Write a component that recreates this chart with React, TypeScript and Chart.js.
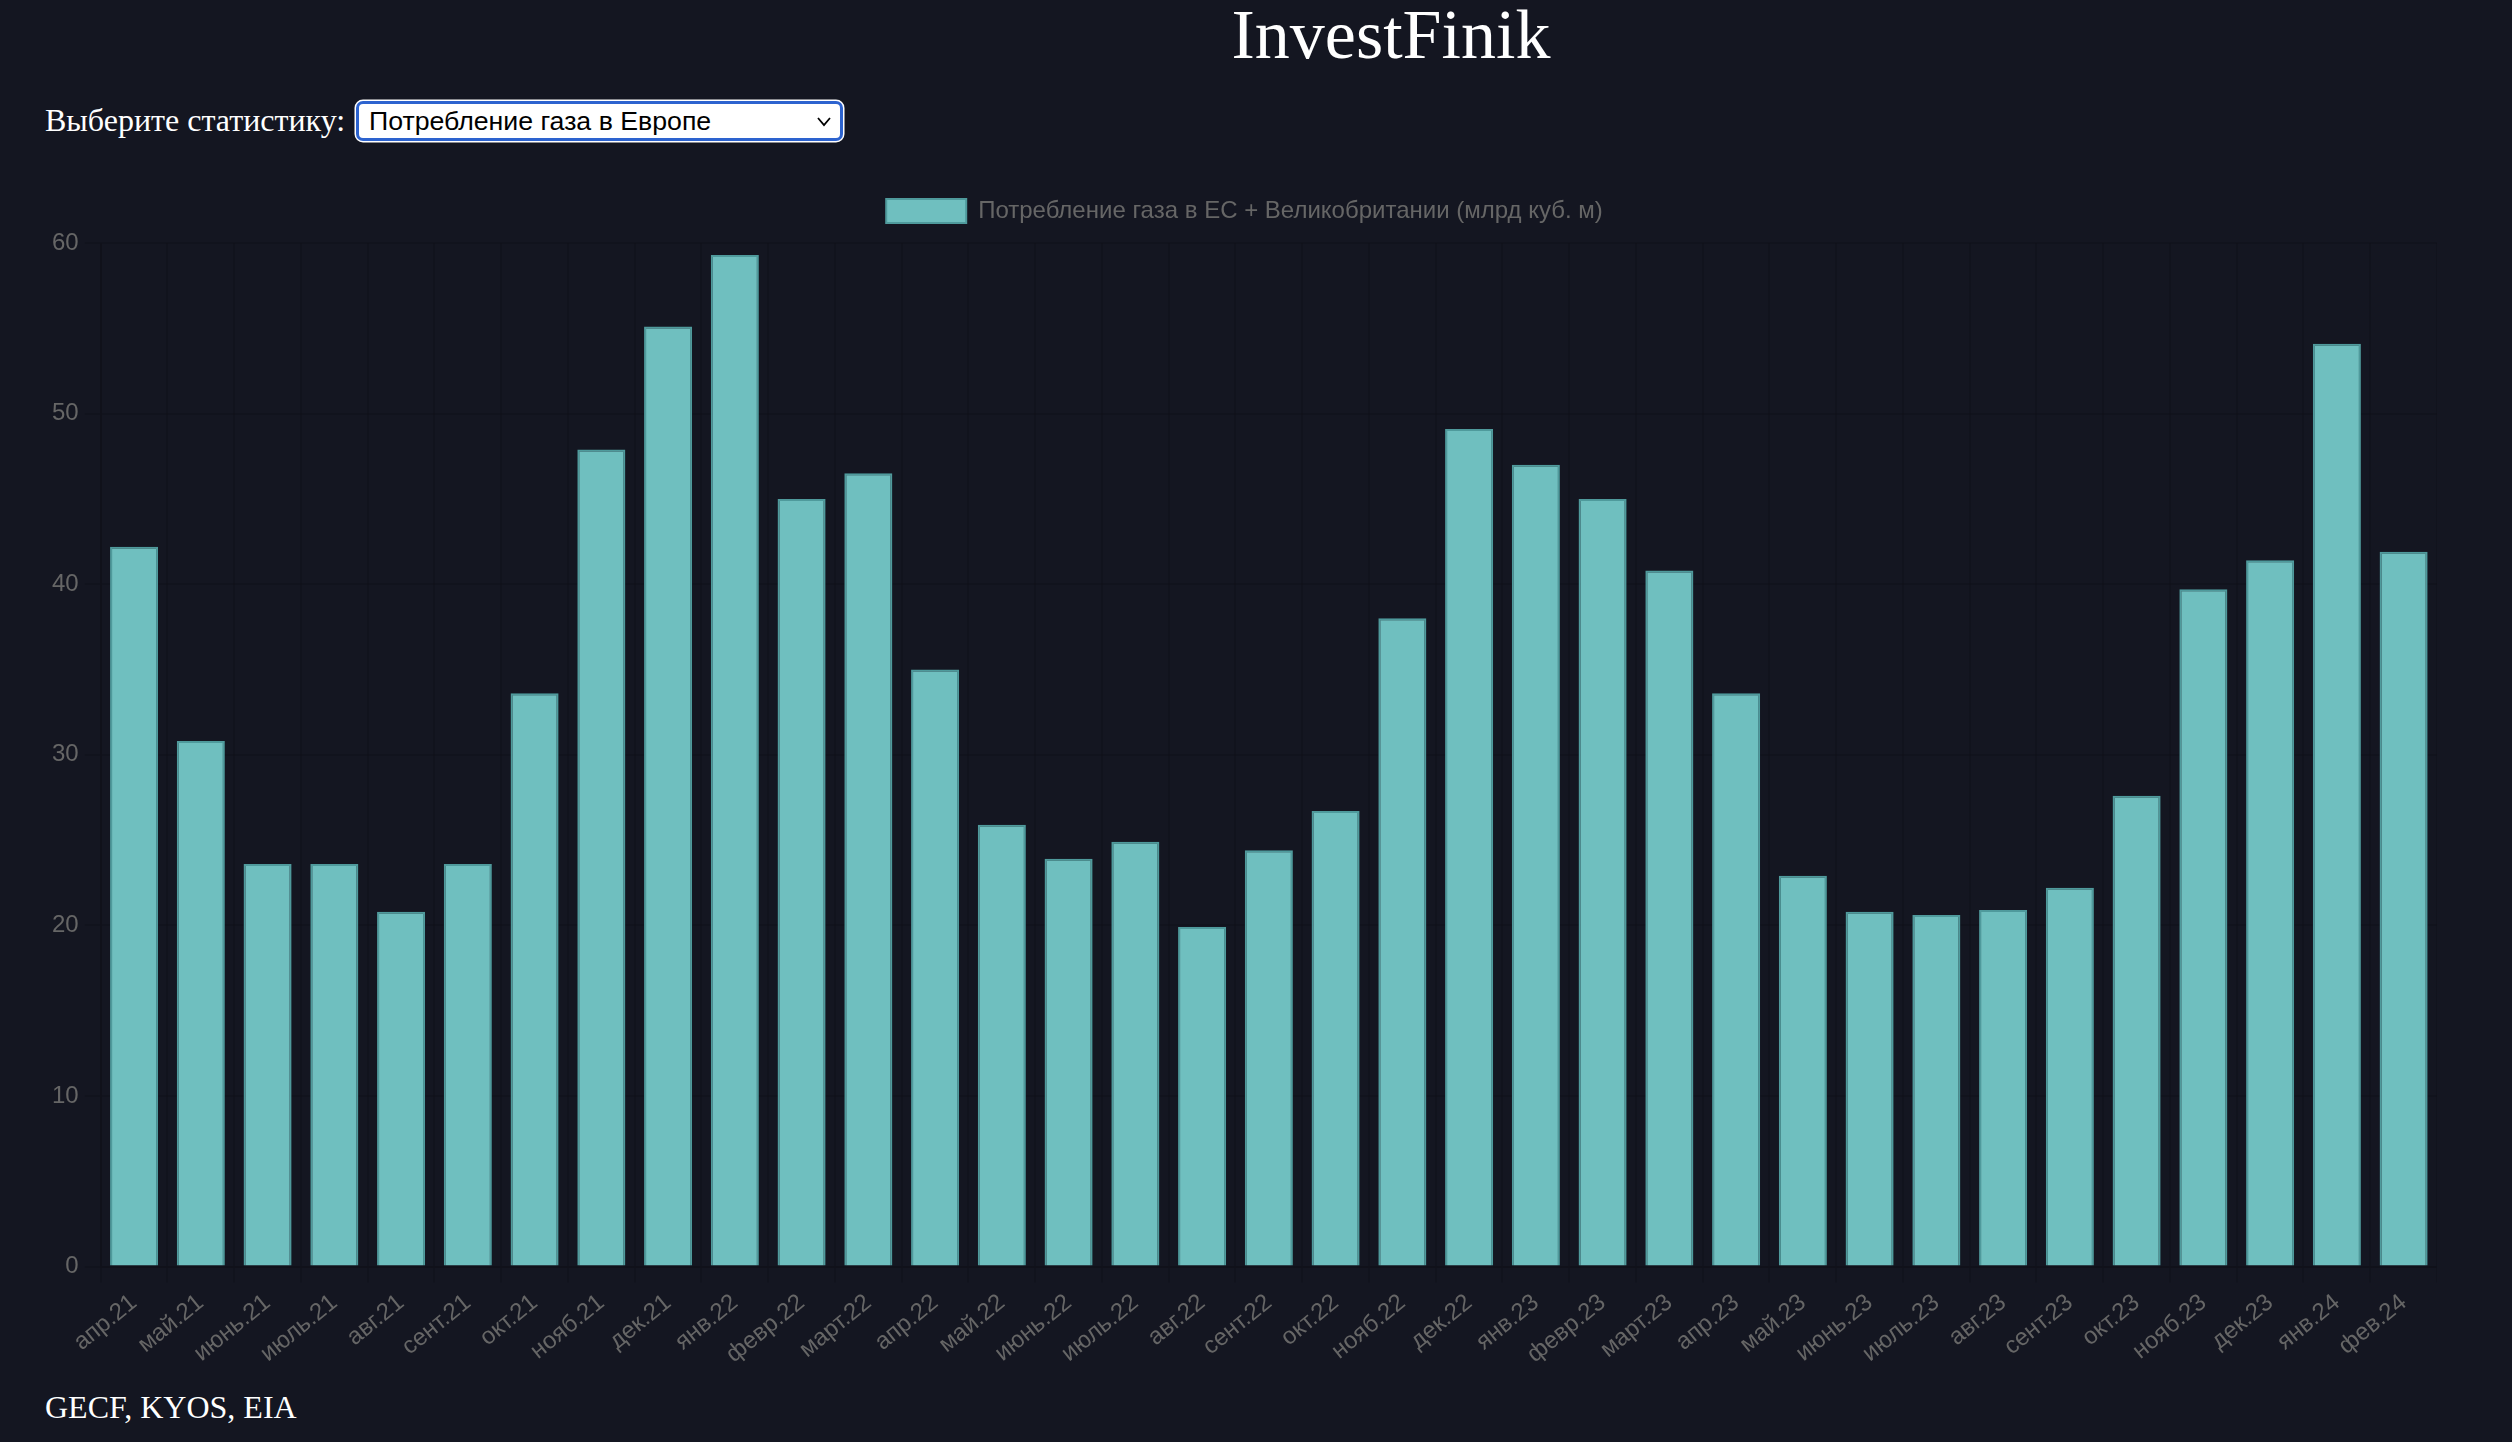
import React, { useEffect, useRef } from "react";
import { Chart, registerables } from "chart.js";

Chart.register(...registerables);

const categories: string[] = [
  "апр.21", "май.21", "июнь.21", "июль.21", "авг.21", "сент.21", "окт.21", "нояб.21", "дек.21",
  "янв.22", "февр.22", "март.22", "апр.22", "май.22", "июнь.22", "июль.22", "авг.22", "сент.22",
  "окт.22", "нояб.22", "дек.22", "янв.23", "февр.23", "март.23", "апр.23", "май.23", "июнь.23",
  "июль.23", "авг.23", "сент.23", "окт.23", "нояб.23", "дек.23", "янв.24", "фев.24",
];

const gasConsumption: number[] = [
  42.2, 30.8, 23.6, 23.6, 20.8, 23.6, 33.6, 47.9, 55.1,
  59.3, 45.0, 46.5, 35.0, 25.9, 23.9, 24.9, 19.9, 24.4,
  26.7, 38.0, 49.1, 47.0, 45.0, 40.8, 33.6, 22.9, 20.8,
  20.6, 20.9, 22.2, 27.6, 39.7, 41.4, 54.1, 41.9,
];

const seriesLabel = "Потребление газа в ЕС + Великобритании (млрд куб. м)";
const yMin = 0;
const yMax = 60;
const yStep = 10;

const pageTitle = "InvestFinik";
const selectLabel = "Выберите статистику:";
const selectOptions: string[] = ["Потребление газа в Европе"];
const sourceText = "GECF, KYOS, EIA";

const BG = "#141621";

const legendSpacer = {
  id: "legendSpacer",
  afterInit(chart: any) {
    const lg = chart.legend;
    if (!lg || lg.__patched) return;
    const orig = lg.fit.bind(lg);
    lg.fit = function () {
      orig();
      this.height += 10;
    };
    lg.__patched = true;
  },
};

function GasChart() {
  const ref = useRef<HTMLCanvasElement | null>(null);
  useEffect(() => {
    if (!ref.current) return;
    const font = { family: "'Liberation Sans', Arial, sans-serif", size: 24 };
    const chart = new Chart(ref.current, {
      type: "bar",
      data: {
        labels: categories,
        datasets: [
          {
            label: seriesLabel,
            data: gasConsumption,
            backgroundColor: "#6fbfbf",
            borderColor: "#4f9a9c",
            borderWidth: 2,
          },
        ],
      },
      options: {
        responsive: false,
        animation: false,
        devicePixelRatio: 1,
        color: "#666",
        font,
        plugins: {
          legend: {
            position: "top",
            labels: { font, color: "#666", boxWidth: 80, boxHeight: 24, padding: 20 },
          },
          tooltip: { enabled: false },
        },
        scales: {
          x: {
            ticks: { font, color: "#666", padding: 6, minRotation: 39, maxRotation: 39, autoSkip: false },
            grid: { color: "rgba(0,0,0,0.1)", tickLength: 16, lineWidth: 2 },
            border: { color: "rgba(0,0,0,0.1)", width: 2 },
            afterFit(scale: any) {
              scale.paddingLeft = 0;
              scale.paddingRight = 0;
              scale.height = 102.5;
            },
          },
          y: {
            min: yMin,
            max: yMax,
            ticks: { font, color: "#666", padding: 6, stepSize: yStep },
            grid: { color: "rgba(0,0,0,0.1)", tickLength: 16, lineWidth: 2 },
            border: { color: "rgba(0,0,0,0.1)", width: 2 },
            afterFit(scale: any) {
              scale.width = 48.7;
            },
          },
        },
      },
      plugins: [legendSpacer],
    } as any);
    return () => chart.destroy();
  }, []);
  return (
    <canvas
      ref={ref}
      width={2385}
      height={1190}
      style={{ position: "absolute", left: 52, top: 179, width: 2385, height: 1190 }}
    />
  );
}

export default function App() {
  return (
    <div
      style={{
        position: "fixed",
        left: 0,
        top: 0,
        width: "100vw",
        height: "100vh",
        background: BG,
        overflow: "hidden",
        color: "#ffffff",
        fontFamily: "'Liberation Serif', 'Times New Roman', serif",
      }}
    >
      <div
        style={{
          position: "absolute",
          left: 270,
          right: 0,
          top: 0,
          textAlign: "center",
          fontSize: 70,
          lineHeight: "70px",
          whiteSpace: "nowrap",
        }}
      >
        {pageTitle}
      </div>
      <div
        style={{
          position: "absolute",
          left: 45,
          top: 104,
          fontSize: 32,
          lineHeight: "32px",
          whiteSpace: "nowrap",
        }}
      >
        {selectLabel}
      </div>
      <div style={{ position: "absolute", left: 356, top: 101, width: 487, height: 40 }}>
        <select
          defaultValue={selectOptions[0]}
          style={{
            appearance: "none",
            WebkitAppearance: "none",
            boxSizing: "border-box",
            width: 487,
            height: 40,
            margin: 0,
            border: "3px solid #2d63cf",
            borderRadius: 7,
            boxShadow: "0 0 0 1.5px #ffffff",
            background: "#ffffff",
            color: "#000000",
            fontFamily: "'Liberation Sans', Arial, sans-serif",
            fontSize: 26.7,
            paddingLeft: 10,
            paddingTop: 0,
            paddingBottom: 0,
            outline: "none",
          }}
        >
          {selectOptions.map((o) => (
            <option key={o} value={o}>
              {o}
            </option>
          ))}
        </select>
        <svg
          width={14}
          height={10}
          style={{ position: "absolute", left: 461, top: 16, pointerEvents: "none" }}
        >
          <polyline points="1,1 7,8 13,1" fill="none" stroke="#000" strokeWidth={1.8} />
        </svg>
      </div>
      <GasChart />
      <div
        style={{
          position: "absolute",
          left: 45,
          top: 1391,
          fontSize: 32,
          lineHeight: "32px",
          whiteSpace: "nowrap",
        }}
      >
        {sourceText}
      </div>
    </div>
  );
}
